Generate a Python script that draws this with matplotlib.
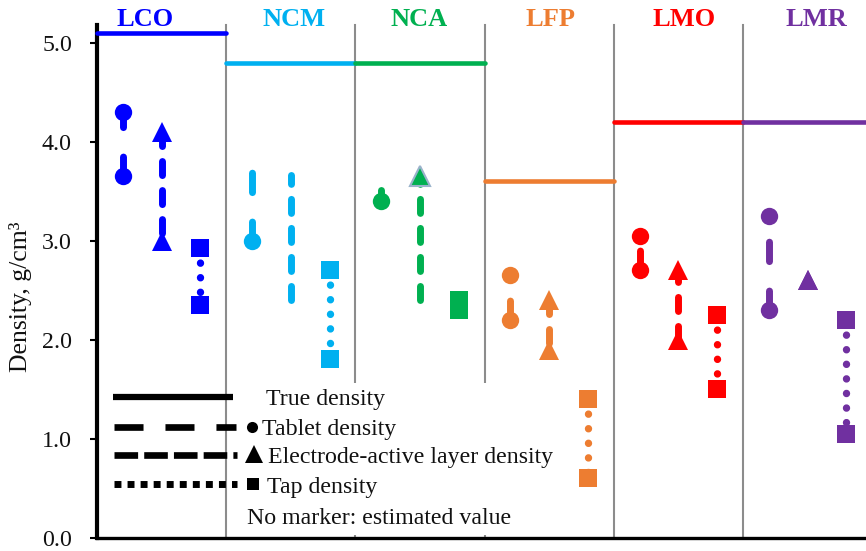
import numpy as np
import matplotlib.pyplot as plt
from matplotlib.patches import Rectangle

plt.rcParams['font.family'] = ['Liberation Serif', 'DejaVu Serif']
plt.rcParams['lines.scale_dashes'] = False

# cathode materials and their colours
materials = ['LCO', 'NCM', 'NCA', 'LFP', 'LMO', 'LMR']
colors = ['#0000FF', '#00B0F0', '#00B050', '#ED7D31', '#FF0000', '#7030A0']
title_x = [0.37, 1.525, 2.49, 3.51, 4.54, 5.565]

# true (crystallographic) density
true_density = [5.1, 4.8, 4.8, 3.6, 4.2, 4.2]

# tablet density, first and second point of each series (no marker = estimated)
tablet_start = [3.65, 3.0, 3.4, 2.2, 2.7, 2.3]
tablet_end = [4.3, 3.7, 3.51, 2.65, 3.05, 3.25]
tablet_start_marked = [True, True, True, True, True, True]
tablet_end_marked = [True, False, False, True, True, True]

# electrode-active layer density
electrode_start = [4.1, 2.4, 2.4, 2.4, 2.0, 2.6]
electrode_end = [3.0, 3.66, 3.65, 1.9, 2.7, 2.6]
electrode_start_marked = [True, False, False, True, True, True]
electrode_end_marked = [True, False, True, True, True, True]

# tap density
tap_start = [2.93, 2.7, 2.4, 1.4, 2.25, 2.2]
tap_end = [2.35, 1.8, 2.3, 0.6, 1.5, 1.05]

tri_edge = ['none', 'none', '#9AB3CB', 'none', 'none', 'none']

W, H = 866, 551
fig = plt.figure(figsize=(W / 100, H / 100), dpi=100)
x0_px, x_unit = 97, 129.2
y0_px, ytop_px = 537.5, 25
ax = fig.add_axes([x0_px / W, (H - y0_px) / H, 1 - x0_px / W, (y0_px - ytop_px) / H])
ax.set_xlim(0, (W - x0_px) / x_unit)
ymax = 5.18
ax.set_ylim(0, ymax)

for s in ['top', 'right']:
    ax.spines[s].set_visible(False)
ax.spines['left'].set_linewidth(3)
ax.spines['bottom'].set_linewidth(2.4)
ax.set_xticks([])
ax.set_yticks(np.arange(0, 5.01, 1.0))
ax.set_yticklabels(['%.1f' % v for v in np.arange(0, 5.01, 1.0)])
ax.tick_params(axis='y', direction='out', length=5, width=1.5, labelsize=17.2, pad=13,
               labelcolor='#111111')

# group separators
for i in range(1, len(materials)):
    ax.plot([i, i], [0, ymax], color='#8C8C8C', lw=1.5, zorder=1, clip_on=False)
# white box behind the legend
ax.add_patch(Rectangle((1.11, 0.03), 2.52, 1.53, facecolor='white', edgecolor='none', zorder=2))

off_tab, off_ele, off_tap = 0.2, 0.5, 0.8
for i, c in enumerate(colors):
    # true density
    ax.plot([i, i + 1], [true_density[i]] * 2, color=c, lw=3.3,
            solid_capstyle='round', zorder=4, clip_on=False)

    # tablet density
    x = i + off_tab
    ax.plot([x, x], [tablet_start[i], tablet_end[i]], color=c, lw=5,
            dashes=(14, 21.2), dash_capstyle='round', zorder=5)
    if tablet_start_marked[i]:
        ax.plot(x, tablet_start[i], 'o', ms=12.5, color=c, mew=0, zorder=6)
    if tablet_end_marked[i]:
        ax.plot(x, tablet_end[i], 'o', ms=12.5, color=c, mew=0, zorder=6)

    # electrode-active layer density
    x = i + off_ele
    ax.plot([x, x], [electrode_start[i], electrode_end[i]], color=c, lw=5,
            dashes=(10.1, 10.8), dash_capstyle='round', zorder=5)
    mew = 0 if tri_edge[i] == 'none' else 1.5
    if electrode_start_marked[i]:
        ax.plot(x, electrode_start[i], '^', ms=14.5, color=c, mec=tri_edge[i], mew=mew, zorder=6)
    if electrode_end_marked[i]:
        ax.plot(x, electrode_end[i], '^', ms=14.5, color=c, mec=tri_edge[i], mew=mew, zorder=6)

    # tap density
    x = i + off_tap
    ax.plot([x, x], [tap_start[i], tap_end[i]], color=c, lw=5.3,
            dashes=(0.1, 10.4), dash_capstyle='round', zorder=5)
    ax.plot([x, x], [tap_start[i], tap_end[i]], 's', ms=12.5, color=c, mew=0, zorder=6)

    ax.text(title_x[i], 5.24, materials[i], color=c, fontsize=19, fontweight='bold',
            ha='center', va='center', clip_on=False)

fig.text(21 / W, 1 - 297 / H, 'Density, g/cm³', rotation=90, ha='center', va='center',
         fontsize=18.5, color='#111111')

# legend drawn by hand, in pixel coordinates
lax = fig.add_axes([0, 0, 1, 1])
lax.set_xlim(0, W)
lax.set_ylim(H, 0)
lax.axis('off')
k = 'black'
lax.plot([113, 233], [397, 397], color=k, lw=4.5, solid_capstyle='butt')
lax.plot([114, 236], [427, 427], color=k, lw=4.8, dashes=(20.9, 15.8))
lax.plot(252, 427, 'o', ms=8, color=k, mew=0)
lax.plot([114, 237], [455, 455], color=k, lw=4.8, dashes=(17, 4.4))
lax.plot(254, 454, '^', ms=13, color=k, mew=0)
lax.plot([114, 237], [484, 484], color=k, lw=5, dashes=(5, 4.4))
lax.plot(253, 484, 's', ms=8.6, color=k, mew=0)
fs = 17.2
tc = '#111111'
lax.text(266, 399, 'True density', va='center', fontsize=fs, color=tc)
lax.text(262, 429, 'Tablet density', va='center', fontsize=fs, color=tc)
lax.text(268, 458, 'Electrode-active layer density', va='center', fontsize=fs, color=tc)
lax.text(267, 488, 'Tap density', va='center', fontsize=fs, color=tc)
lax.text(247, 518, 'No marker: estimated value', va='center', fontsize=fs, color=tc)

fig.savefig('out.png', dpi=100)
